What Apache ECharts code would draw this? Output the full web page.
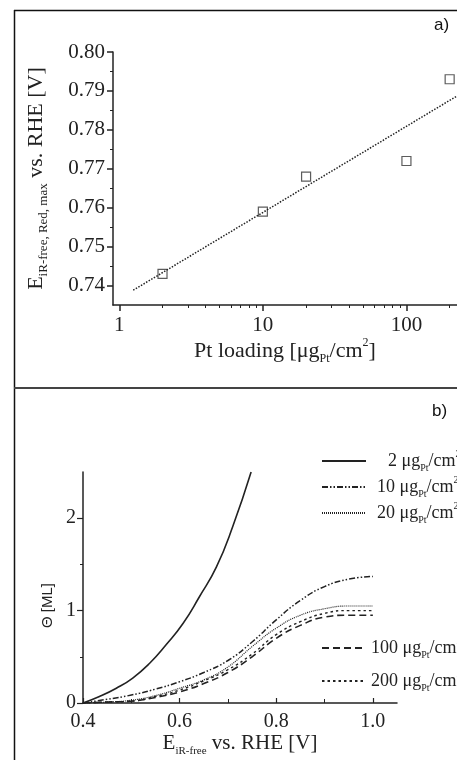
<!DOCTYPE html>
<html>
<head>
<meta charset="utf-8">
<script src="https://cdn.jsdelivr.net/npm/echarts@6/dist/echarts.min.js"></script>
<style>
  html, body { margin: 0; padding: 0; background: #fff; overflow: hidden; }
  #chart { width: 457px; height: 760px; }
</style>
</head>
<body>
<div id="chart"></div>
<script>
// panel a) potential of max reduction vs Pt loading
const loadings = [2, 10, 20, 100, 200];
const eRedMax = [0.743, 0.759, 0.768, 0.772, 0.793];
const fitLine = [[1.25, 0.7388], [225, 0.7887]];
const loadTicks = [1, 10, 100];
const loadMinorTicks = [2, 3, 4, 5, 6, 7, 8, 9, 20, 30, 40, 50, 60, 70, 80, 90, 200];
const eTicks = [0.74, 0.75, 0.76, 0.77, 0.78, 0.79, 0.8];
const eMinorTicks = [0.745, 0.755, 0.765, 0.775, 0.785, 0.795];

// panel b) coverage vs potential
const potential2 = [0.4, 0.434, 0.469, 0.503, 0.538, 0.572, 0.607, 0.641, 0.676, 0.71, 0.748];
const theta2 = [0, 0.07, 0.16, 0.27, 0.43, 0.63, 0.86, 1.15, 1.47, 1.91, 2.5];
const potential = [0.4, 0.45, 0.5, 0.55, 0.6, 0.65, 0.7, 0.75, 0.8, 0.85, 0.9, 0.95, 1.0];
const theta10 = [0, 0.04, 0.086, 0.15, 0.23, 0.33, 0.46, 0.66, 0.9, 1.11, 1.26, 1.34, 1.37];
const theta20 = [0, 0.01, 0.03, 0.08, 0.16, 0.25, 0.39, 0.61, 0.81, 0.95, 1.02, 1.05, 1.05];
const theta100 = [0, 0.01, 0.02, 0.06, 0.12, 0.21, 0.33, 0.5, 0.7, 0.84, 0.93, 0.95, 0.95];
const theta200 = [0, 0.01, 0.02, 0.07, 0.14, 0.24, 0.36, 0.53, 0.74, 0.88, 0.97, 1.0, 1.0];
const potTicks = [0.4, 0.6, 0.8, 1.0];
const potMinorTicks = [0.5, 0.7, 0.9];
const thetaTicks = [0, 1, 2];
const thetaMinorTicks = [0.5, 1.5];

const serif = "Liberation Serif";
const ink = "#222";
const zip = (xs, ys) => xs.map((x, i) => [x, ys[i]]);

const subRich = (size, sub) => ({
  a: { fontFamily: serif, fontSize: size, lineHeight: size + 6, color: ink },
  s: { fontFamily: serif, fontSize: sub, lineHeight: 11, verticalAlign: "bottom", color: ink },
  p: { fontFamily: serif, fontSize: sub, lineHeight: 11, verticalAlign: "top", color: ink },
});

const axisLine = { show: true, lineStyle: { color: ink, width: 1.5 } };
const label = (size, extra) => Object.assign({ fontFamily: serif, fontSize: size, color: ink }, extra);

const legendRich = Object.assign(subRich(18, 10), {
  n1: { fontFamily: serif, fontSize: 18, lineHeight: 24, padding: [0, 0, 0, 17], color: ink },
  n2: { fontFamily: serif, fontSize: 18, lineHeight: 24, padding: [0, 0, 0, 6], color: ink },
  n3: { fontFamily: serif, fontSize: 18, lineHeight: 24, padding: [0, 0, 0, 0], color: ink },
});
const legendFmt = (name) => `{n${name.length}|${name} }{a|μg}{s|Pt}{a|/cm}{p|2}`;

const chart = echarts.init(document.getElementById("chart"));
chart.setOption({
  animation: false,
  backgroundColor: "#fff",
  grid: [
    { left: 113, top: 52, width: 344, height: 253 },
    { left: 83, top: 472, width: 314, height: 231 },
  ],
  xAxis: [
    {
      type: "log", gridIndex: 0, position: "bottom", min: 0.904, max: 225,
      axisLine,
      axisTick: { customValues: loadTicks, length: 6, lineStyle: { color: ink, width: 1.5 } },
      axisLabel: label(21, { customValues: loadTicks, margin: 10 }),
      splitLine: { show: false },
      name: "{a|Pt loading [μg}{s|Pt}{a|/cm}{p|2}{a|]}",
      nameLocation: "middle", nameGap: 22,
      nameTextStyle: { rich: subRich(22, 12) },
    },
    {
      type: "log", gridIndex: 0, position: "bottom", min: 0.904, max: 225,
      axisLine: { show: false },
      axisTick: { customValues: loadMinorTicks, length: 3, lineStyle: { color: ink, width: 1 } },
      axisLabel: { show: false }, splitLine: { show: false },
    },
    {
      type: "value", gridIndex: 1, position: "bottom", min: 0.4, max: 1.05,
      axisLine,
      axisTick: { customValues: potTicks, inside: true, length: 5, lineStyle: { color: ink, width: 1.2 } },
      axisLabel: label(20, { customValues: potTicks, margin: 9, formatter: (v) => v.toFixed(1) }),
      splitLine: { show: false },
      name: "{a|E}{s|iR-free}{a| vs. RHE [V]}",
      nameLocation: "middle", nameGap: 19,
      nameTextStyle: { rich: subRich(21, 11) },
    },
    {
      type: "value", gridIndex: 1, position: "bottom", min: 0.4, max: 1.05,
      axisLine: { show: false },
      axisTick: { customValues: potMinorTicks, inside: true, length: 4, lineStyle: { color: ink, width: 1 } },
      axisLabel: { show: false }, splitLine: { show: false },
    },
  ],
  yAxis: [
    {
      type: "value", gridIndex: 0, position: "left", min: 0.735, max: 0.8,
      axisLine,
      axisTick: { customValues: eTicks, length: 6, lineStyle: { color: ink, width: 1.5 } },
      axisLabel: label(21, { customValues: eTicks, margin: 8, formatter: (v) => v.toFixed(2) }),
      splitLine: { show: false },
      name: "{a|E}{s|iR-free, Red, max}{a| vs. RHE [V]}",
      nameLocation: "middle", nameRotate: 90, nameGap: 63,
      nameTextStyle: { rich: subRich(22, 13) },
    },
    {
      type: "value", gridIndex: 0, position: "left", min: 0.735, max: 0.8,
      axisLine: { show: false },
      axisTick: { customValues: eMinorTicks, length: 3, lineStyle: { color: ink, width: 1 } },
      axisLabel: { show: false }, splitLine: { show: false },
    },
    {
      type: "value", gridIndex: 1, position: "left", min: 0, max: 2.5,
      axisLine,
      axisTick: { customValues: thetaTicks, length: 6, lineStyle: { color: ink, width: 1.2 } },
      axisLabel: label(20, { customValues: thetaTicks, margin: 7 }),
      splitLine: { show: false },
      name: "Θ [ML]",
      nameLocation: "middle", nameRotate: 90, nameGap: 27,
      nameTextStyle: { fontFamily: "Liberation Sans", fontSize: 15, color: ink, padding: [0, 36, 0, 0] },
    },
    {
      type: "value", gridIndex: 1, position: "left", min: 0, max: 2.5,
      axisLine: { show: false },
      axisTick: { customValues: thetaMinorTicks, length: 3, lineStyle: { color: ink, width: 1 } },
      axisLabel: { show: false }, splitLine: { show: false },
    },
  ],
  legend: [
    {
      data: ["2", "10", "20"], orient: "vertical", left: 316, top: 444,
      itemWidth: 44, itemHeight: 20, itemGap: 2, itemStyle: { opacity: 0 },
      formatter: legendFmt, textStyle: { rich: legendRich },
    },
    {
      data: ["100", "200"], orient: "vertical", left: 316, top: 631,
      itemWidth: 44, itemHeight: 20, itemGap: 9, itemStyle: { opacity: 0 },
      formatter: legendFmt, textStyle: { rich: legendRich },
    },
  ],
  graphic: [
    { type: "line", shape: { x1: 14.5, y1: 10, x2: 14.5, y2: 760 }, style: { stroke: "#111", lineWidth: 1.5 } },
    { type: "line", shape: { x1: 14, y1: 10.5, x2: 457, y2: 10.5 }, style: { stroke: "#111", lineWidth: 1.5 } },
    { type: "line", shape: { x1: 14, y1: 388, x2: 457, y2: 388 }, style: { stroke: "#444", lineWidth: 2 } },
    { type: "text", left: 434, top: 17, style: { text: "a)", font: "17px 'Liberation Sans'", fill: "#111" } },
    { type: "text", left: 432, top: 403, style: { text: "b)", font: "17px 'Liberation Sans'", fill: "#111" } },
  ],
  series: [
    {
      type: "line", xAxisIndex: 0, yAxisIndex: 0, data: fitLine, symbol: "none",
      lineStyle: { color: ink, width: 1.5, type: [1.5, 1.5] },
    },
    {
      type: "scatter", xAxisIndex: 0, yAxisIndex: 0, data: zip(loadings, eRedMax),
      symbol: "rect", symbolSize: 9,
      itemStyle: { color: "#fff", borderColor: "#333", borderWidth: 1.2 },
    },
    {
      name: "2", type: "line", xAxisIndex: 2, yAxisIndex: 2, data: zip(potential2, theta2),
      smooth: true, symbol: "none", lineStyle: { color: ink, width: 1.6, type: "solid" },
    },
    {
      name: "10", type: "line", xAxisIndex: 2, yAxisIndex: 2, data: zip(potential, theta10),
      smooth: true, symbol: "none", lineStyle: { color: ink, width: 1.5, type: [6, 2, 1.5, 2, 1.5, 2] },
    },
    {
      name: "20", type: "line", xAxisIndex: 2, yAxisIndex: 2, data: zip(potential, theta20),
      smooth: true, symbol: "none", lineStyle: { color: ink, width: 1.2, type: [1, 1] },
    },
    {
      name: "100", type: "line", xAxisIndex: 2, yAxisIndex: 2, data: zip(potential, theta100),
      smooth: true, symbol: "none", lineStyle: { color: ink, width: 1.6, type: [7, 4] },
    },
    {
      name: "200", type: "line", xAxisIndex: 2, yAxisIndex: 2, data: zip(potential, theta200),
      smooth: true, symbol: "none", lineStyle: { color: ink, width: 1.4, type: [2.5, 3] },
    },
  ],
});
</script>
</body>
</html>
